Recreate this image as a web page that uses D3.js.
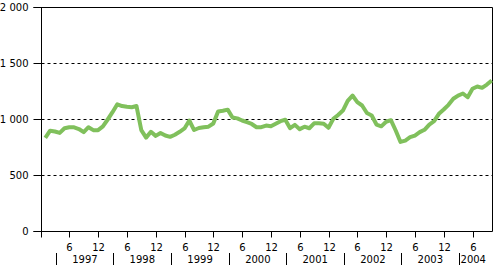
<!DOCTYPE html>
<html>
<head>
<meta charset="utf-8">
<script src="https://cdn.jsdelivr.net/npm/d3@7"></script>
<style>
  html, body { margin: 0; padding: 0; background: #fff; }
  svg { display: block; }
  text { font-family: "DejaVu Sans", Verdana, sans-serif; font-size: 10px; fill: #000; }
</style>
</head>
<body>
<svg id="chart" width="495" height="266"></svg>
<script>
// ---- data (monthly, Jan 1997 .. Oct 2004) ----
const years = [1997, 1998, 1999, 2000, 2001, 2002, 2003, 2004];
const monthTickLabels = [6, 12];
const yTicks = [0, 500, 1000, 1500, 2000];
const values = [
  836, 900, 893, 880, 922, 931, 930, 915, 887, 931, 905, 905,      // 1997
  938, 1000, 1065, 1136, 1120, 1113, 1110, 1120, 905, 838, 890, 854, // 1998
  880, 857, 845, 864, 890, 920, 991, 906, 924, 931, 936, 964,      // 1999
  1072, 1078, 1088, 1018, 1010, 991, 976, 960, 931, 931, 946, 939, // 2000
  962, 985, 998, 922, 952, 914, 936, 922, 966, 967, 962, 926,      // 2001
  1006, 1040, 1080, 1167, 1214, 1155, 1125, 1058, 1036, 955, 939, 980, // 2002
  994, 902, 800, 812, 842, 857, 887, 908, 955, 985, 1051, 1089,    // 2003
  1131, 1185, 1214, 1232, 1199, 1274, 1295, 1283, 1312, 1348       // 2004 (Jan-Oct)
];

(function () {
// ---- layout ----
const pLeft = 41.5, pRight = 492.5, pTop = 7.5, pBottom = 231.5;
const svg = d3.select("#chart");

const x = d3.scaleLinear().domain([0, values.length - 1]).range([45.3, 491.7]);
const y = d3.scaleLinear().domain([0, 2000]).range([pBottom, pTop]);

const fmt = d3.formatLocale({decimal: ",", thousands: "\u00a0", grouping: [3], currency: ["", ""]}).format(",d");

// grid lines (dashed)
svg.append("g").selectAll("line")
  .data(yTicks.filter(v => v > 0 && v < 2000))
  .join("line")
  .attr("x1", pLeft).attr("x2", pRight)
  .attr("y1", d => y(d)).attr("y2", d => y(d))
  .attr("stroke", "#000").attr("stroke-width", 1)
  .attr("stroke-dasharray", "3,3");

// y axis with ticks and labels
const yAxis = svg.append("g")
  .attr("transform", `translate(${pLeft},0)`)
  .call(d3.axisLeft(y).tickValues(yTicks).tickSize(8).tickPadding(5).tickFormat(fmt).offset(0));
yAxis.select(".domain").remove();
yAxis.selectAll("line").attr("stroke", "#000");
yAxis.selectAll("text").attr("fill", "#000");
yAxis.attr("font-family", null).attr("font-size", null);

// frame: top, right, bottom, left (left extends below)
svg.append("line").attr("x1", 33.5).attr("x2", pRight).attr("y1", pTop).attr("y2", pTop).attr("stroke", "#000");
svg.append("line").attr("x1", 33.5).attr("x2", pRight).attr("y1", pBottom).attr("y2", pBottom).attr("stroke", "#000");
svg.append("line").attr("x1", pRight).attr("x2", pRight).attr("y1", pTop).attr("y2", pBottom).attr("stroke", "#000");
svg.append("line").attr("x1", pLeft).attr("x2", pLeft).attr("y1", pTop).attr("y2", pBottom + 6).attr("stroke", "#000");

// x axis month ticks (6 and 12 of each year)
const monthTicks = [];
years.forEach((yr, k) => monthTickLabels.forEach(m => {
  const idx = k * 12 + (m - 1);
  if (idx <= values.length - 1) monthTicks.push({idx, m});
}));
const xRound = v => Math.round(x(v)) + 0.5;
const xt = svg.append("g").selectAll("g").data(monthTicks).join("g")
  .attr("transform", d => `translate(${xRound(d.idx)},${pBottom})`);
xt.append("line").attr("y1", 0).attr("y2", 6).attr("stroke", "#000");
xt.append("text").attr("y", 19.5).attr("text-anchor", "middle").text(d => d.m);

// year separators and labels
const yearOffset = 2.2;
const labelEdge = 487;
const sep = years.map((yr, k) => ({yr, k, sx: Math.round(x(k * 12 + yearOffset)) + 0.5}));
svg.append("g").selectAll("line").data(sep).join("line")
  .attr("x1", d => d.sx).attr("x2", d => d.sx)
  .attr("y1", 253).attr("y2", 265)
  .attr("stroke", "#000");
svg.append("g").selectAll("text").data(sep).join("text")
  .attr("x", d => (d.sx + Math.min(x((d.k + 1) * 12 + yearOffset), labelEdge)) / 2)
  .attr("y", 262.5)
  .attr("text-anchor", "middle")
  .text(d => d.yr);

// data line
svg.append("path")
  .datum(values)
  .attr("fill", "none")
  .attr("stroke", "#80c05c")
  .attr("stroke-width", 4)
  .attr("stroke-linejoin", "round")
  .attr("d", d3.line().x((d, i) => x(i)).y(d => y(d)));
})();
</script>
</body>
</html>
